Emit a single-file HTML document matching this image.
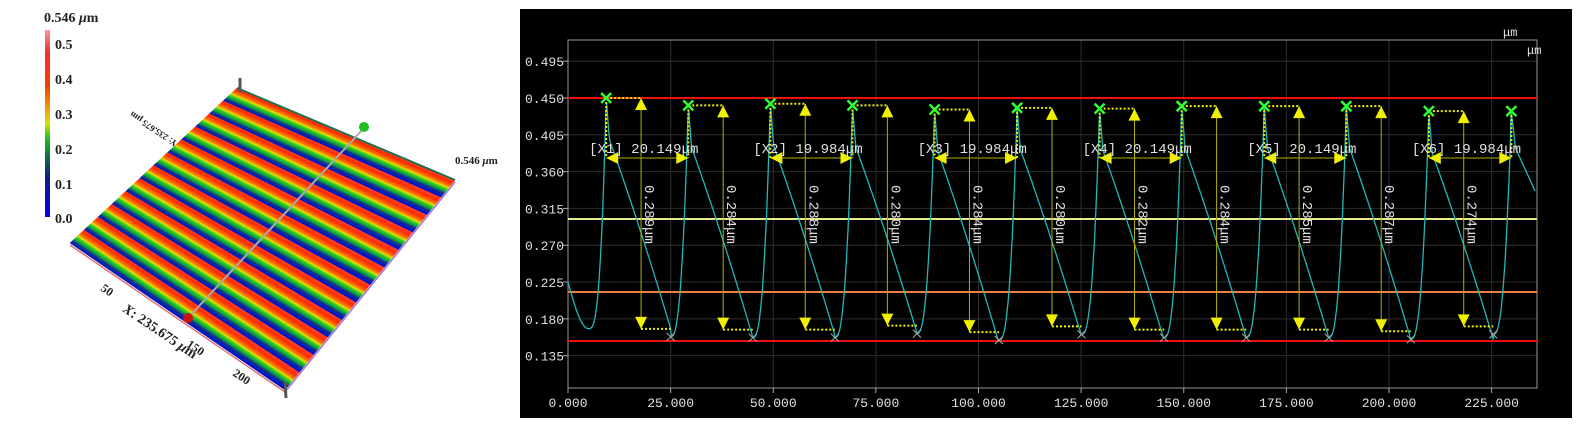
<!DOCTYPE html>
<html><head><meta charset="utf-8"><style>
html,body{margin:0;padding:0;background:#fff;width:1581px;height:428px;overflow:hidden}
svg{position:absolute;left:0;top:0}
.m{font-family:"Liberation Mono",monospace;fill:#e0e0e0}
.s{font-family:"Liberation Serif",serif;font-weight:bold;fill:#222}
</style></head><body>
<svg id="sv" width="1581" height="428" xmlns="http://www.w3.org/2000/svg">
<defs>
<linearGradient id="cb" x1="0" y1="0" x2="0" y2="1">
<stop offset="0" stop-color="#f49a9a"/><stop offset="0.12" stop-color="#f03030"/><stop offset="0.3" stop-color="#f04000"/><stop offset="0.42" stop-color="#f0a000"/><stop offset="0.5" stop-color="#d8e000"/><stop offset="0.58" stop-color="#20c020"/><stop offset="0.68" stop-color="#0a7040"/><stop offset="0.78" stop-color="#102080"/><stop offset="1" stop-color="#0000f0"/>
</linearGradient>
</defs>
<rect x="45" y="30" width="5" height="187" fill="url(#cb)"/>
<text class="s" x="44" y="22" font-size="14">0.546 <tspan font-style="italic">μ</tspan>m</text>
<text class="s" x="55" y="49" font-size="14">0.5</text>
<text class="s" x="55" y="84" font-size="14">0.4</text>
<text class="s" x="55" y="119" font-size="14">0.3</text>
<text class="s" x="55" y="154" font-size="14">0.2</text>
<text class="s" x="55" y="189" font-size="14">0.1</text>
<text class="s" x="55" y="223" font-size="14">0.0</text>
<g id="surf"></g>
<text class="s" x="455" y="164" font-size="11" font-weight="normal">0.546 <tspan font-style="italic">μ</tspan>m</text>
<text class="s" font-size="12" font-weight="normal" transform="translate(100,290) rotate(34)">50</text>
<text class="s" font-size="12" font-weight="normal" transform="translate(186,346) rotate(34)">150</text>
<text class="s" font-size="12" font-weight="normal" transform="translate(232,375) rotate(34)">200</text>
<text class="s" font-size="14" font-weight="normal" transform="translate(122,311) rotate(34)"><tspan font-style="italic">X</tspan>: 235.675 <tspan font-style="italic">μ</tspan>m</text>
<text class="s" font-size="9" font-weight="normal" transform="translate(178,142) rotate(214)">Y: 235.675 μm</text>

<rect x="520" y="9" width="1052" height="409" fill="#000"/>
<g id="chart"></g>
<text class="m" x="1503" y="36" font-size="12">μm</text>
<text class="m" x="1527" y="54" font-size="12">μm</text>
</svg>
<script>
const NS="http://www.w3.org/2000/svg";
function el(p,t,a,txt){const e=document.createElementNS(NS,t);for(const k in a)e.setAttribute(k,a[k]);if(txt!=null)e.textContent=txt;p.appendChild(e);return e;}
const S=document.getElementById('surf');
const A=[237,88],B=[70,243],C=[285,390],D=[455,180];
function lerp(p,q,t){return [p[0]+(q[0]-p[0])*t,p[1]+(q[1]-p[1])*t];}
const defs=document.querySelector('defs');
const N=12;
for(let i=0;i<N;i++){
  const t0=i/N,t1=(i+1)/N;
  const L0=lerp(A,B,t0),L1=lerp(A,B,t1),R0=lerp(D,C,t0),R1=lerp(D,C,t1);
  const m0=lerp(L0,R0,0.5),m1=lerp(L1,R1,0.5);
  let dx=(R0[0]-L0[0]+R1[0]-L1[0]),dy=(R0[1]-L0[1]+R1[1]-L1[1]);const dl=Math.hypot(dx,dy);dx/=dl;dy/=dl;
  const nx=-dy,ny=dx;const w=(m1[0]-m0[0])*nx+(m1[1]-m0[1])*ny;
  const g=el(defs,'linearGradient',{id:'g'+i,gradientUnits:'userSpaceOnUse',x1:m0[0],y1:m0[1],x2:m0[0]+nx*w,y2:m0[1]+ny*w});
  [[0,'#ff4020'],[0.15,'#ff2a00'],[0.35,'#f57a00'],[0.45,'#e8e000'],[0.55,'#30d020'],[0.68,'#10a040'],[0.8,'#103090'],[1,'#0010d0']].forEach(s=>el(g,'stop',{offset:s[0],'stop-color':s[1]}));
  el(S,'polygon',{points:[L0,R0,R1,L1].map(p=>p.join(',')).join(' '),fill:'url(#g'+i+')',stroke:'url(#g'+i+')','stroke-width':0.5});
}
el(S,'line',{x1:70,y1:245,x2:285,y2:392,stroke:'#e07070','stroke-width':1.5});
el(S,'line',{x1:285,y1:392,x2:455,y2:182,stroke:'#a070e0','stroke-width':1.5});
el(S,'line',{x1:237,y1:88,x2:455,y2:180,stroke:'#207050','stroke-width':2});
el(S,'line',{x1:188,y1:318,x2:364,y2:128,stroke:'#aaa','stroke-width':2});
el(S,'circle',{cx:188,cy:318,r:5,fill:'#d01010'});
el(S,'circle',{cx:364,cy:127,r:5,fill:'#20c020'});
el(S,'line',{x1:240,y1:78,x2:240,y2:92,stroke:'#555','stroke-width':3});
el(S,'line',{x1:285,y1:382,x2:286,y2:398,stroke:'#555','stroke-width':3});
const G=document.getElementById('chart');
const X=v=>568+4.105*v, Y=v=>98+(0.450-v)*818;
const yt=[0.495,0.450,0.405,0.360,0.315,0.270,0.225,0.180,0.135];
yt.forEach(v=>{el(G,'line',{x1:568,x2:1537,y1:Y(v),y2:Y(v),stroke:'#2e2e2e'});el(G,'line',{x1:563,x2:568,y1:Y(v),y2:Y(v),stroke:'#aaa'});el(G,'text',{class:'m',x:525,y:Y(v)+5,'font-size':13},v.toFixed(3));});
for(let v=0;v<=225;v+=25){el(G,'line',{x1:X(v),x2:X(v),y1:40,y2:388,stroke:'#2e2e2e'});el(G,'line',{x1:X(v),x2:X(v),y1:388,y2:393,stroke:'#aaa'});el(G,'text',{class:'m',x:X(v),y:407,'font-size':13,'text-anchor':'middle'},v.toFixed(3));}
el(G,'rect',{x:568,y:40,width:969,height:348,fill:'none',stroke:'#999'});
el(G,'line',{x1:568,x2:1537,y1:98,y2:98,stroke:'#f01010','stroke-width':2});
el(G,'line',{x1:568,x2:1537,y1:341,y2:341,stroke:'#f01010','stroke-width':2});
el(G,'line',{x1:568,x2:1537,y1:219,y2:219,stroke:'#e8e890','stroke-width':2});
el(G,'line',{x1:568,x2:1537,y1:292,y2:292,stroke:'#f08040','stroke-width':2});
const pk=[9.3,29.3,49.3,69.3,89.3,109.4,129.5,149.5,169.6,189.6,209.7,229.8];
const ph=[0.450,0.441,0.443,0.441,0.436,0.438,0.437,0.440,0.440,0.440,0.434,0.434];
const tv=[0.158,0.157,0.157,0.162,0.154,0.161,0.157,0.157,0.157,0.155,0.161];
let pts=[];
function f(x){
  if(x<pk[0]){ if(x<5)return 0.225-0.057*Math.sin(x/5*Math.PI/2); const u=(x-5)/(pk[0]-5);return 0.168+(ph[0]-0.168)*Math.pow(u,3);}
  for(let i=0;i<pk.length;i++){
    const p=pk[i],n=pk[i+1];
    if(n===undefined){const u=x-p;return ph[i]-(u<1?0.045*u:0.045+0.011*(u-1));}
    if(x<=n){const tr=p+15.7,tvv=tv[i];
      if(x<=tr){const u=(x-p)/(tr-p);const a=Math.min(1,(x-p)/0.8);return ph[i]-0.04*a-(0.40-tvv)*(u*0.9+0.1*u*u);}
      const u=(x-tr)/(n-tr);return tvv+(ph[i+1]-tvv)*Math.pow(u,2.6);}
  }
}
for(let x=0;x<=235.6;x+=0.2)pts.push(X(x).toFixed(1)+','+Y(f(x)).toFixed(1));
el(G,'polyline',{points:pts.join(' '),fill:'none',stroke:'#20b8b8','stroke-width':1.3});
const hl=['0.289','0.284','0.288','0.280','0.284','0.280','0.282','0.284','0.285','0.287','0.274'];
const Y1='#f0f000';
function arrowHead(x,y,dir){const w=6,h=12;el(G,'polygon',{points:dir<0?`${x},${y} ${x-w},${y+h} ${x+w},${y+h}`:`${x},${y} ${x-w},${y-h} ${x+w},${y-h}`,fill:Y1});}
function arrowH(x,y,dir){const w=6,h=12;el(G,'polygon',{points:dir<0?`${x},${y} ${x+h},${y-w} ${x+h},${y+w}`:`${x},${y} ${x-h},${y-w} ${x-h},${y+w}`,fill:Y1});}
for(let i=0;i<11;i++){
  const px=X(pk[i]),py=Y(ph[i]),ax=X(pk[i]+8.5),tx=X(pk[i]+15.7),ty=Y(tv[i]);
  el(G,'line',{x1:px,x2:ax,y1:py,y2:py,stroke:Y1,'stroke-width':2,'stroke-dasharray':'2,2'});
  el(G,'line',{x1:ax,x2:ax,y1:py,y2:ty-8,stroke:'#b0b000','stroke-width':1});
  arrowHead(ax,py,-1);arrowHead(ax,ty-8,1);
  el(G,'line',{x1:ax,x2:tx,y1:ty-8,y2:ty-8,stroke:Y1,'stroke-width':2,'stroke-dasharray':'2,2'});
  el(G,'text',{class:'m','font-size':14,transform:`translate(${ax+4},185) rotate(90)`},hl[i]+'μm');
  el(G,'path',{d:`M${tx-4},${ty-4}L${tx+4},${ty+4}M${tx+4},${ty-4}L${tx-4},${ty+4}`,stroke:'#aaa','stroke-width':1});
}
const xl=['20.149','19.984','19.984','20.149','20.149','19.984'];
for(let k=0;k<6;k++){
  const a=pk[2*k],b=pk[2*k+1],xa=X(a),xb=X(b),ya=Y(ph[2*k]),yb=Y(ph[2*k+1]);
  el(G,'line',{x1:xa,x2:xa,y1:ya,y2:158,stroke:Y1,'stroke-width':2,'stroke-dasharray':'2,2'});
  el(G,'line',{x1:xb,x2:xb,y1:yb,y2:158,stroke:Y1,'stroke-width':2,'stroke-dasharray':'2,2'});
  el(G,'line',{x1:xa,x2:xb,y1:158,y2:158,stroke:'#b0b000','stroke-width':1});
  arrowH(xa,158,-1);arrowH(xb,158,1);
  el(G,'text',{class:'m','font-size':14,x:xa-17,y:153},'[X'+(k+1)+'] '+xl[k]+'μm');
}
pk.forEach((p,i)=>{const x=X(p),y=Y(ph[i]);el(G,'path',{d:`M${x-5},${y-5}L${x+5},${y+5}M${x+5},${y-5}L${x-5},${y+5}`,stroke:'#30ff30','stroke-width':2.5});});
</script>
</body></html>
